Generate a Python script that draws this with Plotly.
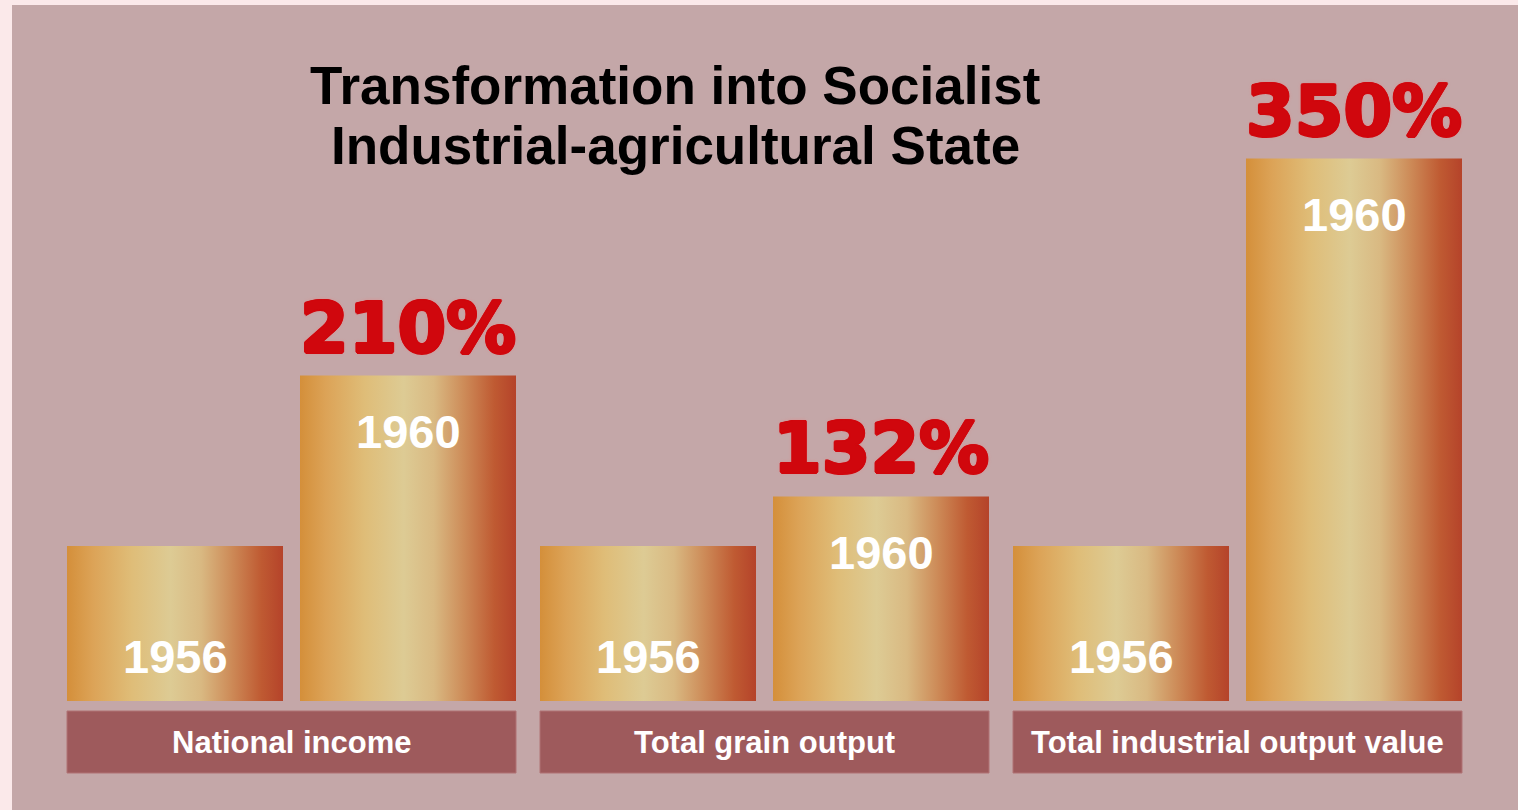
import plotly.graph_objects as go

# ---- data ----
categories = ["National income", "Total grain output", "Total industrial output value"]
years = ["1956", "1960"]
values_1956 = [100, 100, 100]
values_1960 = [210, 132, 350]
pct_labels = ["210%", "132%", "350%"]
title_lines = ["Transformation into Socialist", "Industrial-agricultural State"]

# ---- layout constants (pixels of the 1518x810 page) ----
W, H = 1518, 810
GROUP_PX = 473.0          # distance between category groups
GROUP0_PX = 291.5         # centre of first group
BASE_PX = 701.0           # baseline (value 0)
PX_PER_UNIT = 1.55        # vertical scale
BAR_W = 216 / GROUP_PX
BAR_OFF = 116.5 / GROUP_PX
BOX_HALF = 224.5 / GROUP_PX

x_range = [-GROUP0_PX / GROUP_PX, (W - GROUP0_PX) / GROUP_PX]
y_range = [-(H - BASE_PX) / PX_PER_UNIT, BASE_PX / PX_PER_UNIT]

def py(px):  # page y pixel -> data y
    return (BASE_PX - px) / PX_PER_UNIT

gradient = [
    [0.00, "#d48f3a"],
    [0.12, "#dca357"],
    [0.30, "#dfbd78"],
    [0.48, "#ddcb94"],
    [0.62, "#d9b982"],
    [0.76, "#cd8b58"],
    [0.90, "#bf5a32"],
    [1.00, "#b5432a"],
]

RED = "#d0070d"
thick = ", ".join(f"{dx}px {dy}px 0px {RED}" for dx, dy in
                  [(1.5, 0), (-1.5, 0), (0, 1.5), (0, -1.5), (1, 1), (-1, -1), (1, -1), (-1, 1)])
pct_shadow = thick + ", 0px 0px 4px #e88080"

fig = go.Figure()

for i, cat in enumerate(categories):
    for j, (yr, vals) in enumerate([(years[0], values_1956), (years[1], values_1960)]):
        xc = i + (-BAR_OFF if j == 0 else BAR_OFF)
        x0, x1 = xc - BAR_W / 2, xc + BAR_W / 2
        v = vals[i]
        fig.add_trace(go.Scatter(
            x=[x0, x1, x1, x0, x0], y=[0, 0, v, v, 0],
            mode="lines", line=dict(width=0), fill="toself",
            fillgradient=dict(type="horizontal", colorscale=gradient),
            hoverinfo="text", text=f"{cat} {yr}: {v}",
            showlegend=False,
        ))
        if j == 0:
            fig.add_annotation(x=xc, y=0, yshift=45, text=yr, showarrow=False,
                               yanchor="middle",
                               font=dict(family="Liberation Sans, Arial", size=47,
                                         color="white", weight="bold"))
        else:
            fig.add_annotation(x=xc, y=v, yshift=-56, text=yr, showarrow=False,
                               yanchor="middle",
                               font=dict(family="Liberation Sans, Arial", size=47,
                                         color="white", weight="bold"))
            fig.add_annotation(x=xc, y=v, yshift=48, text=pct_labels[i], showarrow=False,
                               yanchor="middle",
                               font=dict(family="DejaVu Sans", size=70,
                                         color=RED, weight="bold",
                                         shadow=pct_shadow))
    # category label box
    fig.add_shape(type="rect", xref="x", yref="y",
                  x0=i - BOX_HALF, x1=i + BOX_HALF, y0=py(711), y1=py(773),
                  fillcolor="#9e5a5c", line=dict(color="#b07274", width=1), layer="below")
    fig.add_annotation(x=i, y=(py(711) + py(773)) / 2, text=cat, showarrow=False,
                       yanchor="middle",
                       font=dict(family="Liberation Sans, Arial", size=31,
                                 color="white", weight="bold"))

# background panel
fig.add_shape(type="rect", xref="paper", yref="paper",
              x0=12 / W, x1=1, y0=0, y1=1 - 5 / H,
              fillcolor="#c4a7a8", line=dict(width=0), layer="below")

# title
for k, line in enumerate(title_lines):
    fig.add_annotation(xref="paper", yref="paper", x=675 / W, y=1 - (85 + 60 * k) / H,
                       text=line, showarrow=False, xanchor="center", yanchor="middle",
                       font=dict(family="Liberation Sans, Arial", size=53,
                                 color="black", weight="bold"))

fig.update_layout(
    width=W, height=H,
    margin=dict(l=0, r=0, t=0, b=0),
    paper_bgcolor="#fbe9ea",
    plot_bgcolor="rgba(0,0,0,0)",
    xaxis=dict(range=x_range, visible=False, fixedrange=True),
    yaxis=dict(range=y_range, visible=False, fixedrange=True),
    showlegend=False,
)

fig.write_html("out.html", config={"displayModeBar": False},
               post_script="document.body.style.margin='0';document.body.style.overflow='hidden';")
